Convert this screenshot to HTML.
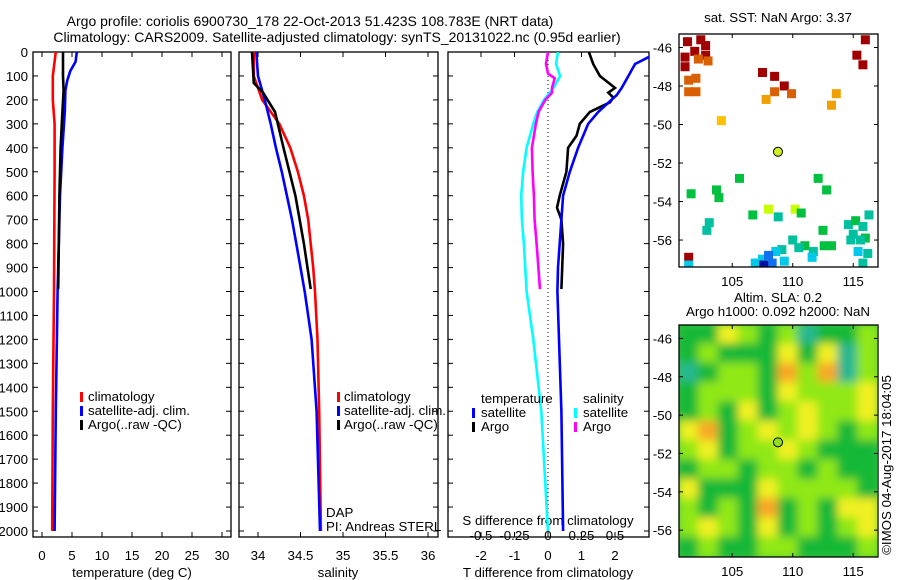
<!DOCTYPE html>
<html><head><meta charset="utf-8"><style>
body{margin:0;background:#fff}
svg{display:block;font-family:"Liberation Sans",sans-serif;font-size:13.3px}
</style></head><body>
<svg id="c" width="900" height="580" viewBox="0 0 900 580">
<defs>
<clipPath id="cp1"><rect x="33" y="52" width="198" height="485"/></clipPath>
<clipPath id="cp2"><rect x="239" y="52" width="199" height="485"/></clipPath>
<clipPath id="cp3"><rect x="448" y="52" width="201" height="485"/></clipPath>
<clipPath id="cpm1"><rect x="679" y="34" width="199" height="233"/></clipPath>
<clipPath id="cpm2"><rect x="679" y="325" width="198" height="232"/></clipPath>
<filter id="blur" x="-10%" y="-10%" width="120%" height="120%"><feGaussianBlur stdDeviation="4.5"/></filter>
</defs>
<text x="310" y="26" text-anchor="middle" font-size="14">Argo profile: coriolis 6900730_178 22-Oct-2013 51.423S 108.783E (NRT data)</text>
<text x="337" y="42" text-anchor="middle" font-size="14">Climatology: CARS2009. Satellite-adjusted climatology: synTS_20131022.nc (0.95d earlier)</text>
<g id="g"></g>
</svg>
<script>
// ---- profile data (depth in m) ----
const tClimDepth=[0,100,200,300,500,1000,1500,2000];
const tClimVal=[2.3,1.8,1.8,2.1,2.1,2.0,1.8,1.7];
const tSatDepth=[0,40,80,120,160,250,400,600,1000,1500,2000];
const tSatVal=[5.8,5.6,4.7,4.2,3.9,3.8,3.4,3.0,2.6,2.3,2.1];
const tArgoDepth=[0,100,160,250,400,600,800,990];
const tArgoVal=[3.5,3.5,3.6,3.4,3.1,2.9,2.8,2.7];
const sClimDepth=[0,100,200,300,400,500,600,700,800,900,1000,1200,1500,2000];
const sClimVal=[33.95,33.95,34.05,34.25,34.38,34.47,34.54,34.59,34.62,34.65,34.67,34.70,34.72,34.74];
const sSatDepth=[0,100,200,300,400,500,600,700,800,1000,1200,1500,2000];
const sSatVal=[33.98,34.0,34.08,34.15,34.21,34.28,34.34,34.40,34.45,34.55,34.63,34.69,34.73];
const sArgoDepth=[0,130,170,250,400,600,800,990];
const sArgoVal=[33.93,33.95,34.06,34.2,34.3,34.44,34.54,34.62];
const dTSatDepth=[0,50,150,180,250,300,400,500,600,700,900,1000,1500,2000];
const dTSatVal=[3.3,2.6,2.2,2.05,1.5,1.2,0.9,0.65,0.45,0.4,0.3,0.28,0.4,0.45];
const dTArgoDepth=[0,50,100,150,170,190,210,250,300,350,400,500,600,650,700,800,990];
const dTArgoVal=[1.22,1.35,1.55,2.0,1.8,1.95,1.85,1.25,0.95,0.85,0.6,0.55,0.35,0.27,0.4,0.45,0.4];
const dSArgoDepth=[0,50,90,110,150,170,200,250,300,400,500,600,700,800,990];
const dSArgoVal=[0,-0.015,0,0.05,0.03,0.03,-0.02,-0.07,-0.09,-0.12,-0.115,-0.105,-0.1,-0.085,-0.06];
const dSSatDepth=[0,50,100,150,200,250,300,400,500,600,700,800,1000,1200,1500,1800,2000];
const dSSatVal=[0.075,0.06,0.09,0.04,-0.03,-0.08,-0.11,-0.16,-0.185,-0.2,-0.195,-0.18,-0.16,-0.11,-0.05,-0.02,0];
const depthTicks=[0,100,200,300,400,500,600,700,800,900,1000,1100,1200,1300,1400,1500,1600,1700,1800,1900,2000];
const tTicks=[0,5,10,15,20,25,30];
const sTicks=[34,34.5,35,35.5,36];
const sTickLabels=["34","34.5","35","35.5","36"];
const dTTicks=[-2,-1,0,1,2];
const dSTicks=[-0.5,-0.25,0,0.25,0.5];
// ---- SST map cells: [lon, lat, colour index 0..9] ----
const sstCells=[[101.3,-45.7,9],[102.4,-45.6,9],[102.8,-45.9,9],[101.9,-46.2,9],[102.8,-46.4,9],[101.1,-46.5,9],[101.1,-47.0,9],[102.2,-46.6,8],[103,-46.7,8],[116,-45.6,9],[115.3,-46.4,9],[115.8,-46.9,9],[107.5,-47.3,9],[108.5,-47.5,9],[109.3,-48.0,9],
[101.4,-47.7,8],[102.0,-47.6,8],[101.4,-48.3,8],[102.0,-48.3,8],[108.5,-48.3,8],[109.9,-48.4,8],[107.8,-48.7,7],[113.6,-48.4,7],[113.2,-49.0,7],[104.1,-49.8,6],
[105.6,-52.8,4],[101.6,-53.6,4],[103.7,-53.4,4],[103.9,-53.8,4],[112.1,-52.8,4],[112.8,-53.4,4],[106.7,-54.7,4],[108.0,-54.4,5],[110.2,-54.4,5],[110.7,-54.6,4],[103.1,-55.1,3],[102.9,-55.5,3],[112.5,-55.5,4],[111.0,-56.3,4],[112.6,-56.3,4],[113.2,-56.3,4],
[110,-56.0,3],[110.5,-56.4,3],[109.1,-56.5,3],[111.7,-56.6,3],[116.3,-54.7,3],[114.6,-55.2,3],[115.2,-55.0,4],[115.8,-55.3,3],[115.0,-55.7,3],[116.0,-55.9,4],[114.8,-56.0,3],[115.6,-56.0,3],[108.8,-54.8,3],
[108.6,-56.6,2],[107.5,-57.0,2],[106.9,-57.2,2],[111.6,-56.9,2],[115.4,-56.6,2],[116.2,-56.7,3],[115.8,-57.2,3],[109.3,-57.1,2],[108.0,-56.8,1],[108.3,-57.2,1],[107.6,-57.3,0],[101.4,-56.9,9],[101.4,-57.3,2]];
const sstColors=["#0010a0","#1070f0","#00c8e8","#00c0a0","#00c040","#c8ff00","#ffc000","#f0a000","#d86000","#a00000"];
// ---- SLA map coarse grid (rows north->south), colour index ----
const slaGrid=[[1,1,3,2,1,2,0,1,1,2],[1,2,1,1,1,3,1,3,0,2],[0,1,2,2,1,4,2,4,0,2],[1,2,2,2,1,3,2,2,2,3],[1,2,1,3,1,2,3,2,2,3],[3,4,1,2,3,2,3,2,1,2],[2,3,1,2,2,3,2,1,1,1],[1,2,2,1,2,2,1,2,1,1],[3,1,1,1,3,2,2,2,2,1],[2,1,2,1,4,1,2,1,3,3],[2,3,2,1,3,1,2,1,2,3],[1,2,1,1,2,2,1,1,1,2]];
const slaColors=["#28b890","#18b838","#90e818","#f0f020","#f8a828"];
const argoLon=108.78, argoLat=-51.42;
const lonTicks=[105,110,115], latTicks=[-46,-48,-50,-52,-54,-56];

const NS="http://www.w3.org/2000/svg", G=document.getElementById('g');
function mk(t,a,p){const e=document.createElementNS(NS,t);for(const k in a)e.setAttribute(k,a[k]);(p||G).appendChild(e);return e;}
function txt(x,y,s,anchor,p){const e=mk('text',{x:x,y:y,'text-anchor':anchor||'middle'},p);e.textContent=s;return e;}
const Y=d=>52+d*0.2395;
function lineXY(xs,ys,fx,fy,color,clip,name){
 const pts=xs.map((v,i)=>fx(v).toFixed(1)+','+fy(ys[i]).toFixed(1)).join(' ');
 const e=mk('polyline',{points:pts,fill:'none',stroke:color,'stroke-width':2.6,'clip-path':'url(#'+clip+')'});
 
 
}
function panel(x0,x1,name){
 const r=mk('rect',{x:x0,y:52,width:x1-x0,height:485,fill:'none',stroke:'#000','stroke-width':1.3});
 
 
 depthTicks.forEach(d=>{mk('line',{x1:x0,x2:x0+5,y1:Y(d),y2:Y(d),stroke:'#000'});mk('line',{x1:x1,x2:x1-5,y1:Y(d),y2:Y(d),stroke:'#000'});});
}
function legendBar(x,y,c){mk('rect',{x:x,y:y-9,width:3,height:10,fill:c});}
// Panel 1
const X1=t=>42+6*t;
panel(33,231,'temperature-panel');
depthTicks.forEach(d=>{const e=txt(28,Y(d)+5,String(d),'end');});
tTicks.forEach(t=>{mk('line',{x1:X1(t),x2:X1(t),y1:537,y2:532,stroke:'#000'});mk('line',{x1:X1(t),x2:X1(t),y1:52,y2:57,stroke:'#000'});txt(X1(t),560,String(t));});
txt(132,577,'temperature (deg C)');
lineXY(tClimVal,tClimDepth,X1,Y,'#f00','cp1','temp-climatology-line');
lineXY(tSatVal,tSatDepth,X1,Y,'#00f','cp1','temp-satellite-line');
lineXY(tArgoVal,tArgoDepth,X1,Y,'#000','cp1','temp-argo-line');
[['climatology','#f00'],['satellite-adj. clim.','#00f'],['Argo(..raw -QC)','#000']].forEach((l,i)=>{legendBar(80,401+i*14,l[1]);txt(88,401+i*14,l[0],'start');});
// Panel 2
const X2=s=>258+85*(s-34);
panel(239,438,'salinity-panel');
sTicks.forEach((t,i)=>{mk('line',{x1:X2(t),x2:X2(t),y1:537,y2:532,stroke:'#000'});mk('line',{x1:X2(t),x2:X2(t),y1:52,y2:57,stroke:'#000'});txt(X2(t),560,sTickLabels[i]);});
txt(338,577,'salinity');
lineXY(sClimVal,sClimDepth,X2,Y,'#f00','cp2','sal-climatology-line');
lineXY(sSatVal,sSatDepth,X2,Y,'#00f','cp2','sal-satellite-line');
lineXY(sArgoVal,sArgoDepth,X2,Y,'#000','cp2','sal-argo-line');
[['climatology','#f00'],['satellite-adj. clim.','#00f'],['Argo(..raw -QC)','#000']].forEach((l,i)=>{legendBar(337,401+i*14,l[1]);txt(344,401+i*14,l[0],'start');});
txt(326,517,'DAP','start');txt(326,531,'PI: Andreas STERL','start');
// Panel 3
const X3=t=>548+33.5*t, X3s=s=>548+134*s;
panel(448,649,'difference-panel');
mk('line',{x1:548,x2:548,y1:52,y2:537,stroke:'#000','stroke-dasharray':'1,3'});
dTTicks.forEach(t=>{mk('line',{x1:X3(t),x2:X3(t),y1:537,y2:532,stroke:'#000'});mk('line',{x1:X3(t),x2:X3(t),y1:52,y2:57,stroke:'#000'});txt(X3(t),560,String(t));});
dSTicks.forEach(t=>txt(X3s(t),540,String(t)));
txt(548,525,'S difference from climatology');
txt(548,577,'T difference from climatology');
lineXY(dSSatVal,dSSatDepth,X3s,Y,'#0ff','cp3','dS-satellite-line');
lineXY(dSArgoVal,dSArgoDepth,X3s,Y,'#f0f','cp3','dS-argo-line');
lineXY(dTArgoVal,dTArgoDepth,X3,Y,'#000','cp3','dT-argo-line');
lineXY(dTSatVal,dTSatDepth,X3,Y,'#00f','cp3','dT-satellite-line');
txt(481,403,'temperature','start');legendBar(472,417,'#00f');txt(481,417,'satellite','start');legendBar(472,431,'#000');txt(481,431,'Argo','start');
txt(583,403,'salinity','start');legendBar(574,417,'#0ff');txt(583,417,'satellite','start');legendBar(574,431,'#f0f');txt(583,431,'Argo','start');
// Maps
function mapAxes(top,bot,name){
 const LX=lon=>679+(lon-100.6)*12.1, LY=lat=>top+(-45.3-lat)*((bot-top)/12.1);
 const r=mk('rect',{x:679,y:top,width:199,height:bot-top,fill:'none',stroke:'#000','stroke-width':1.3});
 
 
 lonTicks.forEach(l=>{mk('line',{x1:LX(l),x2:LX(l),y1:bot,y2:bot-4,stroke:'#000'});mk('line',{x1:LX(l),x2:LX(l),y1:top,y2:top+4,stroke:'#000'});txt(LX(l),bot+19,String(l));});
 latTicks.forEach(l=>{mk('line',{x1:679,x2:683,y1:LY(l),y2:LY(l),stroke:'#000'});mk('line',{x1:878,x2:874,y1:LY(l),y2:LY(l),stroke:'#000'});txt(672,LY(l)+5,String(l),'end');});
 return [LX,LY];
}
// SST map
let [LX1,LY1]=[lon=>679+(lon-100.6)*12.1,lat=>34+(-45.3-lat)*19.25];
const gm1=mk('g',{'clip-path':'url(#cpm1)'});
sstCells.forEach(c=>{const e=mk('rect',{x:LX1(c[0])-4.5,y:LY1(c[1])-4.5,width:9,height:9,fill:sstColors[c[2]]},gm1);});
mapAxes(34,267,'sst-map');
const p1=mk('circle',{cx:LX1(argoLon),cy:LY1(argoLat),r:4.5,fill:'#d0f020',stroke:'#000'});

txt(778,22,'sat. SST: NaN Argo: 3.37');
// SLA map
const gm2=mk('g',{'clip-path':'url(#cpm2)'});
mk('rect',{x:679,y:325,width:199,height:232,fill:'#40c840'},gm2);
const gb=mk('g',{filter:'url(#blur)'},gm2);
const cw=199/10, ch=232/12;
slaGrid.forEach((row,ri)=>row.forEach((v,ci)=>{const e=mk('rect',{x:679+ci*cw-1,y:325+ri*ch-1,width:cw+2,height:ch+2,fill:slaColors[v]},gb);}));
const [LX2,LY2]=mapAxes(325,557,'sla-map');
const p2=mk('circle',{cx:LX2(argoLon),cy:LY2(argoLat),r:4.5,fill:'#90e020',stroke:'#000'});

txt(778,302,'Altim. SLA: 0.2');
txt(778,316,'Argo h1000: 0.092 h2000: NaN');
const cr=txt(0,0,'©IMOS 04-Aug-2017 18:04:05','middle');
cr.setAttribute('transform','translate(891,465) rotate(-90)');

</script>
</body></html>
